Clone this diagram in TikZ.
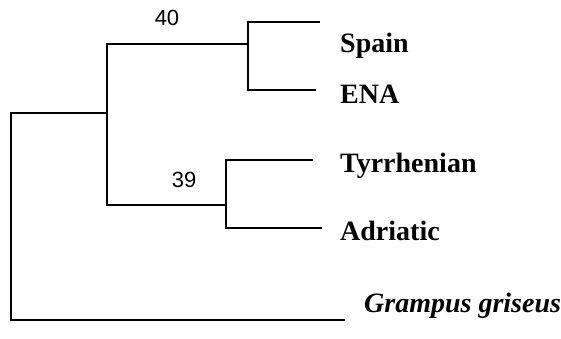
\documentclass[tikz,border=0pt]{standalone}
\usepackage{fontspec}
\setmainfont{Liberation Serif}
\newfontfamily\supportfont{Liberation Sans}
\usetikzlibrary{positioning}
\newcommand*{\taxonleaf}[6]{%
\coordinate (#1-tip) at (#2,#3);
\node[#4] (#1) at (#5,#3) {#6};
}

\begin{document}
\begin{tikzpicture}[x=1pt,y=-1pt]
		\tikzset{
			basefont/.style = {font = \fontsize{28}{32}\selectfont},
			taxon/.style = {font = \fontsize{28}{32}\selectfont\bfseries, anchor = base west, inner sep = 0pt},
			outgroup/.style = {taxon, font = \fontsize{28}{32}\selectfont\bfseries\itshape},
			support/.style = {font = \fontsize{22}{26}\selectfont\supportfont, inner sep = 0pt},
			branch/.style = {line width = 1.4pt},
		};
		\useasboundingbox (0,0) rectangle (561,338);

		\coordinate (root) at (11,113);
		\coordinate (nA) at (107,113);
		\coordinate (nB) at (248,44);
		\coordinate (nC) at (226,205);

		\taxonleaf{spain}{320}{22}{taxon, yshift = -30pt}{340}{Spain}
		\taxonleaf{ena}{316}{90}{taxon, yshift = -13pt}{340}{ENA}
		\taxonleaf{tyr}{313}{160}{taxon, yshift = -12pt}{340}{Tyrrhenian}
		\taxonleaf{adr}{322}{228}{taxon, yshift = -12pt}{340}{Adriatic}
		\taxonleaf{gri}{345}{320}{outgroup, yshift = 8pt}{364}{Grampus griseus}

		\draw[branch] (nA) -- (root) |- (gri-tip);
		\draw[branch] (nB) -| (nA) |- (nC);
		\draw[branch] (spain-tip) -| (nB) |- (ena-tip);
		\draw[branch] (tyr-tip) -| (nC) |- (adr-tip);

		\node[support] (bs40) at (167,18) {40};
		\node[support] (bs39) at (184,180) {39};
	\end{tikzpicture}
\end{document}
